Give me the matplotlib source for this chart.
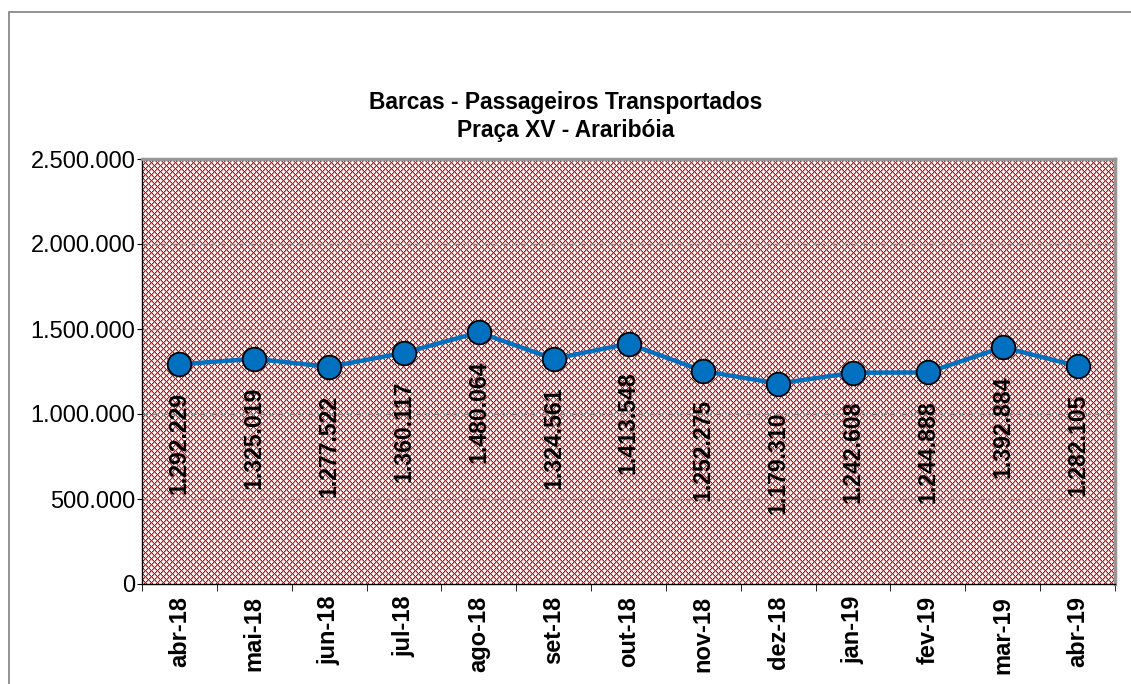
import numpy as np
import matplotlib.pyplot as plt
from matplotlib.patches import Rectangle
from matplotlib.ticker import FuncFormatter

meses = ["abr-18", "mai-18", "jun-18", "jul-18", "ago-18", "set-18", "out-18",
         "nov-18", "dez-18", "jan-19", "fev-19", "mar-19", "abr-19"]
passageiros = [1292229, 1325019, 1277522, 1360117, 1480064, 1324561, 1413548,
               1252275, 1179310, 1242608, 1244888, 1392884, 1282105]
y_ticks = [0, 500000, 1000000, 1500000, 2000000, 2500000]

plt.rcParams['font.family'] = ['Liberation Sans', 'DejaVu Sans']

def fmt_br(v, pos=None):
    return f"{int(v):,}".replace(",", ".")

fig = plt.figure(figsize=(11.31, 6.84), dpi=100)
# moldura externa do grafico
fig.patches.append(Rectangle((9 / 1131, -0.1), 1.2, 1 - 12 / 684 + 0.1,
                             transform=fig.transFigure, fill=False,
                             edgecolor='#808080', linewidth=1.2))

left, right, top, bottom = 142 / 1131, 1115 / 1131, 1 - 159 / 684, 1 - 584 / 684
ax = fig.add_axes([left, bottom, right - left, top - bottom])

x = np.arange(len(meses))
ax.set_xlim(-0.5, len(meses) - 0.5)
ax.set_ylim(0, 2500000)

# fundo quadriculado vermelho (padrao do Excel)
w_px, h_px = 973, 425
ii, jj = np.mgrid[0:h_px, 0:w_px]
d1 = (ii + jj) % 6
d2 = (ii - jj) % 6
red = (d1 == 0) | (d2 == 0)
pink = (d1 == 1) | (d2 == 1)
img = np.ones((h_px, w_px, 3))
img[pink] = (0.94, 0.56, 0.56)
img[red] = (0.84, 0.0, 0.0)
ax.imshow(img, extent=(-0.5, len(meses) - 0.5, 0, 2500000), aspect='auto',
          interpolation='nearest', zorder=0)

for yv in y_ticks[1:]:
    ax.axhline(yv, color='#8c8c8c', linestyle=(0, (4, 3)), linewidth=1.0, zorder=1)

ax.plot(x, passageiros, color='#0070C0', linewidth=3.2, marker='o',
        markersize=17, markerfacecolor='#0070C0', markeredgecolor='black',
        markeredgewidth=1.3, zorder=3)

for xi, v in zip(x, passageiros):
    ax.annotate(fmt_br(v), (xi, v), xytext=(0, -20), textcoords='offset points',
                rotation=90, ha='center', va='top', fontsize=16.6,
                fontweight='bold', zorder=4)

ax.set_yticks(y_ticks)
ax.yaxis.set_major_formatter(FuncFormatter(fmt_br))
ax.tick_params(axis='y', labelsize=17, length=3.6, direction='out', pad=1)

ax.set_xticks(x)
ax.set_xticklabels(meses, rotation=90, fontsize=17, fontweight='bold')
ax.set_xticks(np.arange(-0.5, len(meses)), minor=True)
ax.tick_params(axis='x', which='major', length=0, pad=8.5)
ax.tick_params(axis='x', which='minor', length=5, direction='out')

for s in ['left', 'bottom']:
    ax.spines[s].set_color('black')
    ax.spines[s].set_linewidth(1.0)
for s in ['top', 'right']:
    ax.spines[s].set_color('#969696')
    ax.spines[s].set_linewidth(2.5)

fig.text(0.5, 1 - 102 / 684, "Barcas - Passageiros Transportados", ha='center',
         va='center', fontsize=16.4, fontweight='bold')
fig.text(0.5, 1 - 131 / 684, "Praça XV - Araribóia", ha='center',
         va='center', fontsize=16.4, fontweight='bold')

fig.savefig("out.png", dpi=100)
